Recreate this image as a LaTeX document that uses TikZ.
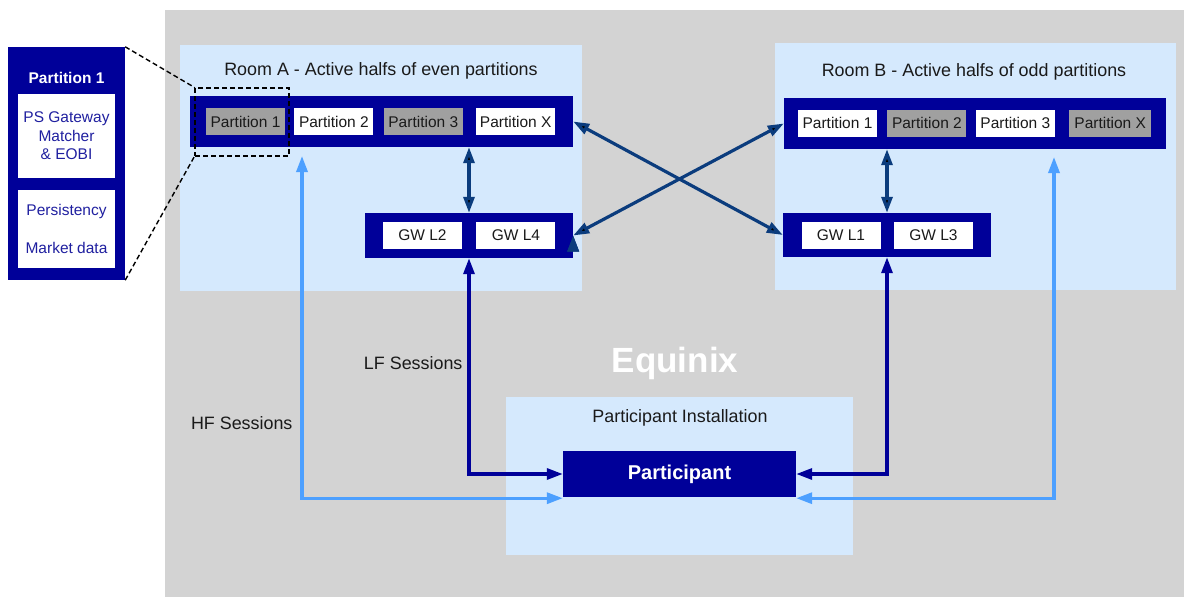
\documentclass[tikz,border=0pt]{standalone}
\usepackage{fontspec}
\setmainfont{Liberation Sans}
\usetikzlibrary{positioning,arrows.meta}

\definecolor{bggray}{HTML}{D3D3D3}
\definecolor{roomblue}{HTML}{D5E9FD}
\definecolor{navy}{HTML}{000099}
\definecolor{cellgray}{HTML}{A0A0A0}
\definecolor{crossblue}{HTML}{0B3C7D}
\definecolor{hfblue}{HTML}{4DA0FF}
\definecolor{txtblue}{HTML}{2020A0}
\definecolor{txtblack}{HTML}{1A1A1A}

\newcommand{\smallfont}{\fontsize{15.5}{18.5}\selectfont}
\newcommand{\titlefont}{\fontsize{17.9}{21}\selectfont}

\begin{document}
\begin{tikzpicture}[x=1pt,y=-1pt,>={Triangle[length=16pt,width=11pt]}]
  \useasboundingbox (0,0) rectangle (1184,597);
  \fill[bggray] (165,10) rectangle (1184,597);
  % rooms
  \begin{scope}[every node/.style={fill=roomblue,inner sep=0pt}]
    \node[minimum width=402pt,minimum height=246pt] (roomA) at (381,168) {};
    \node[minimum width=401pt,minimum height=247pt] (roomB) at (975.5,166.5) {};
    \node[minimum width=347pt,minimum height=158pt] (install) at (679.5,476) {};
  \end{scope}
  \begin{scope}[every node/.style={font=\titlefont,text=txtblack}]
    \node at (381,71) {Room A - Active halfs of even partitions};
    \node at (974,72) {Room B - Active halfs of odd partitions};
    \node at (680,418) {Participant Installation};
    \node[anchor=east] at (466,363) {LF Sessions};
    \node[anchor=east] at (296,423) {HF Sessions};
    \node[font=\fontsize{35}{40}\selectfont\bfseries,text=white] at (675,363) {Equinix};
  \end{scope}
  % bars
  \begin{scope}[every node/.style={fill=navy,inner sep=0pt}]
    \node[minimum width=383pt,minimum height=51pt] (barA) at (381.5,121.5) {};
    \node[minimum width=208pt,minimum height=45pt] (gwA) at (469,235.5) {};
    \node[minimum width=382pt,minimum height=51pt] (barB) at (975,123.5) {};
    \node[minimum width=208pt,minimum height=44pt] (gwB) at (887,235) {};
    \node[minimum width=233pt,minimum height=46pt,text=white,
      font=\fontsize{20}{24}\selectfont\bfseries] (participant) at (679.5,474) {Participant};
  \end{scope}
  % cells
  \begin{scope}[
    every node/.style={
      font=\smallfont,
      text=txtblack,
      fill=white,
      inner sep=0pt,
      minimum width=79pt,
      minimum height=27pt,
    },
    grayed/.style={fill=cellgray},
    ]
    \node[grayed] (partA1) at (245.5,121.5) {Partition 1};
    \node[right=9pt of partA1] (partA2) {Partition 2};
    \node[grayed,right=10pt of partA2] (partA3) {Partition 3};
    \node[right=13pt of partA3] (partAX) {Partition X};
    \node (gwL2) at (422.5,235.5) {GW L2};
    \node[right=14pt of gwL2] (gwL4) {GW L4};
    \node (partB1) at (837.5,123) {Partition 1};
    \node[grayed,right=10pt of partB1] (partB2) {Partition 2};
    \node[right=9pt of partB2] (partB3) {Partition 3};
    \node[grayed,right=14pt of partB3,minimum width=82pt] (partBX) {Partition X};
    \node (gwL1) at (841,235) {GW L1};
    \node[right=13pt of gwL1] (gwL3) {GW L3};
  \end{scope}
  % zoomed partition
  \node[fill=navy,inner sep=0pt,minimum width=117pt,minimum height=233pt] (detail) at (66.5,163.5) {};
  \node[font=\smallfont\bfseries,text=white] at (66.5,78) {Partition 1};
  \begin{scope}[
    every node/.style={
      font=\smallfont,
      text=txtblue,
      fill=white,
      align=center,
      inner sep=0pt,
      minimum width=97pt,
    },
    ]
    \node[minimum height=84pt] (detailTop) at (66.5,136) {PS Gateway\\Matcher\\\& EOBI};
    \node[minimum height=78pt] (detailBot) at (66.5,229) {Persistency\\[19pt]Market data};
  \end{scope}
  \begin{scope}[line width=1.4pt,dash pattern=on 5pt off 3pt]
    \node[draw,inner sep=0pt,minimum width=94pt,minimum height=68pt] (zoomsel) at (242,122) {};
    \draw (detail.north east) -- (zoomsel.north west);
    \draw (detail.south east) -- (zoomsel.south west);
  \end{scope}
  % connectors
  \coordinate (hfA) at (302,156);
  \coordinate (hfB) at (1054,157);
  \begin{scope}[line width=3.2pt]
    \path[draw=crossblue,<->]
    (gwA.north |- barA.south) edge (gwA.north)
    (gwB.north |- barB.south) edge (gwB.north)
    (barA.east) edge (gwB.west)
    (gwA.east) edge (barB.west);
    \draw[navy,<->] (gwA.south) |- (participant.west);
    \draw[navy,<->] (gwB.south) |- (participant.east);
    \draw[hfblue,<->] (hfA) |- ([yshift=-1pt]participant.south west);
    \draw[hfblue,<->] (hfB) |- ([yshift=-1pt]participant.south east);
  \end{scope}
\end{tikzpicture}
\end{document}
